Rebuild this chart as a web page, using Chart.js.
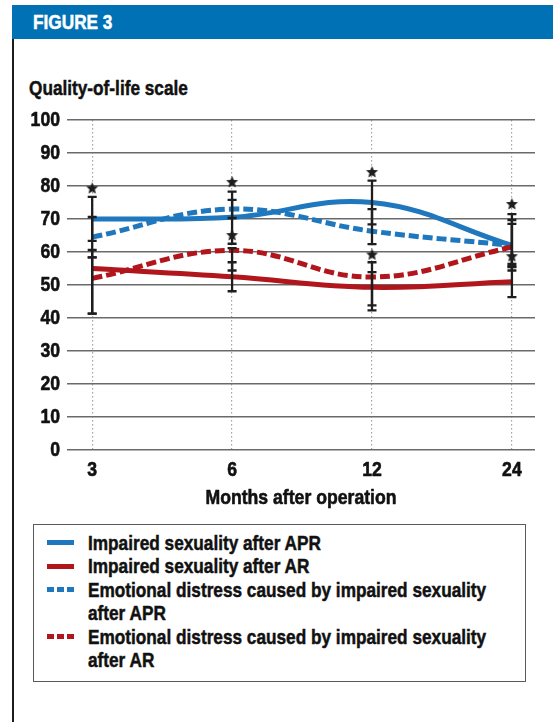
<!DOCTYPE html>
<html>
<head>
<meta charset="utf-8">
<script src="https://cdn.jsdelivr.net/npm/chart.js@4/dist/chart.umd.min.js"></script>
<style>
  html, body { margin: 0; padding: 0; background: #fff; }
  body {
    width: 553px; height: 722px; position: relative; overflow: hidden;
    font-family: "Liberation Sans", Arial, sans-serif;
    font-weight: bold; color: #111;
  }
  /* condensed, heavy lettering */
  .cond { display: inline-block; transform: scaleX(0.82); transform-origin: 0 0; white-space: nowrap; -webkit-text-stroke: 0.5px currentColor; }
  #band { position: absolute; left: 12px; top: 5px; width: 541px; height: 34px; background: #0071b5; color: #fff; font-size: 21px; line-height: 34px; }
  #band .cond { position: absolute; left: 21px; top: 0; }
  #rule { position: absolute; left: 12px; top: 39px; width: 2px; height: 683px; background: #1c1c1c; }
  #ytitle { position: absolute; left: 29px; top: 76px; font-size: 21px; line-height: 24px; }
  #wrap { position: absolute; left: 0; top: 0; width: 553px; height: 515px; }
  #legend {
    position: absolute; left: 33px; top: 524px; width: 493px; height: 158px;
    box-sizing: border-box; border: 1.5px solid #5a5a5a; padding-top: 6px;
    font-size: 21px; line-height: 23.4px;
  }
  .item { position: relative; padding-left: 53.5px; }
  .item .txt { display: block; width: 515px; transform: scaleX(0.82); transform-origin: 0 0; -webkit-text-stroke: 0.5px currentColor; }
  .swatch { position: absolute; left: 12.5px; top: 9.2px; width: 27px; height: 5px; }
</style>
</head>
<body>
<div id="band"><span class="cond">FIGURE 3</span></div>
<div id="rule"></div>
<div id="ytitle"><span class="cond">Quality-of-life scale</span></div>
<div id="wrap"><canvas id="chart" width="553" height="515"></canvas></div>
<div id="legend"></div>

<script>
// Follow-up time points (months after operation)
const months = ['3', '6', '12', '24'];

// Mean scores per time point
const aprImpaired = [70, 70.5, 75, 62];
const arImpaired  = [55, 52.5, 49.3, 51];
const aprDistress = [64.5, 73, 66.3, 62];
const arDistress  = [52, 60.5, 52.4, 61.5];

// Error bar ranges per time point
const aprImpairedLow  = [63.4, 62.5, 68.4, 54.4];
const aprImpairedHigh = [76.7, 78.3, 81.6, 71.5];
const aprDistressLow  = [58.4, 70.3, 62.4, 55.4];
const aprDistressHigh = [70.6, 75.8, 73, 68.5];
const arImpairedLow   = [41.3, 48.1, 43.8, 46.3];
const arImpairedHigh  = [60.6, 56.9, 53.9, 55.7];
const arDistressLow   = [41.3, 54.4, 42.3, 56.4];
const arDistressHigh  = [58.4, 61.2, 56.9, 69.7];

// Significance markers: time point index and height
const starMonth = [0, 1, 1, 2, 2, 3, 3];
const starValue = [79.5, 81.4, 65.3, 84.4, 59.4, 74.7, 58.9];

const BLUE = '#1f77bd';
const RED = '#b0161c';
const INK = '#1e1e1e';
const FONT = '"Liberation Sans", Arial, sans-serif';
const CONDENSE = 0.84;

const errorRanges = [
  [aprImpairedLow, aprImpairedHigh],
  [aprDistressLow, aprDistressHigh],
  [arImpairedLow, arImpairedHigh],
  [arDistressLow, arDistressHigh]
];

function starImage(r) {
  const s = Math.ceil(r * 2 + 2);
  const c = document.createElement('canvas');
  c.width = s; c.height = s;
  const g = c.getContext('2d');
  g.fillStyle = INK;
  g.beginPath();
  for (let k = 0; k < 10; k++) {
    const rad = k % 2 ? r * 0.45 : r;
    const a = -Math.PI / 2 + k * Math.PI / 5;
    g.lineTo(s / 2 + rad * Math.cos(a), s / 2 + 0.8 + rad * Math.sin(a));
  }
  g.closePath();
  g.fill();
  return c;
}

const toPoints = arr => arr.map((v, i) => ({ x: i, y: v }));

// Vertical error bars with caps, drawn just before the marker layer
const errorBars = {
  id: 'errorBars',
  beforeDatasetDraw(chart, args) {
    if (chart.data.datasets[args.index].type !== 'scatter') return;
    const { ctx, scales: { x, y } } = chart;
    ctx.save();
    ctx.strokeStyle = INK;
    ctx.lineWidth = 2.3;
    ctx.lineCap = 'butt';
    errorRanges.forEach(([lo, hi]) => {
      lo.forEach((v, i) => {
        const px = x.getPixelForValue(i);
        const y1 = y.getPixelForValue(v);
        const y2 = y.getPixelForValue(hi[i]);
        ctx.beginPath();
        ctx.moveTo(px, y1); ctx.lineTo(px, y2);
        ctx.moveTo(px - 4.5, y1); ctx.lineTo(px + 4.5, y1);
        ctx.moveTo(px - 4.5, y2); ctx.lineTo(px + 4.5, y2);
        ctx.stroke();
      });
    });
    ctx.restore();
  }
};

// Canvas text is set in a condensed, heavy cut around its anchor point
const canvas = document.getElementById('chart');
const ctx2d = canvas.getContext('2d');
const plainFillText = ctx2d.fillText.bind(ctx2d);
ctx2d.fillText = function (text, x, y, maxWidth) {
  this.save();
  this.translate(x, y);
  this.scale(CONDENSE, 1);
  const w = maxWidth === undefined ? undefined : maxWidth / CONDENSE;
  if (w === undefined) plainFillText(text, 0, 0); else plainFillText(text, 0, 0, w);
  this.strokeStyle = this.fillStyle;
  this.lineWidth = 0.6;
  this.lineJoin = 'round';
  if (w === undefined) this.strokeText(text, 0, 0); else this.strokeText(text, 0, 0, w);
  this.restore();
};

const lineBase = { type: 'line', borderWidth: 5, pointRadius: 0, tension: 0.4, fill: false, borderCapStyle: 'butt' };
const tickFont = { family: FONT, size: 21, weight: 'bold' };

const chart = new Chart(ctx2d, {
  type: 'line',
  data: {
    datasets: [
      { ...lineBase, label: 'Impaired sexuality after APR', data: toPoints(aprImpaired), borderColor: BLUE, order: 4 },
      { ...lineBase, label: 'Impaired sexuality after AR', data: toPoints(arImpaired), borderColor: RED, order: 2 },
      { ...lineBase, label: 'Emotional distress caused by impaired sexuality after APR', data: toPoints(aprDistress), borderColor: BLUE, borderDash: [10, 4], order: 3 },
      { ...lineBase, label: 'Emotional distress caused by impaired sexuality after AR', data: toPoints(arDistress), borderColor: RED, borderDash: [10, 4], order: 1 },
      {
        type: 'scatter', label: 'p < 0.05',
        data: starMonth.map((m, i) => ({ x: m, y: starValue[i] })),
        pointStyle: starImage(6.3), pointRadius: 7, showLine: false, order: 0
      }
    ]
  },
  options: {
    responsive: false,
    devicePixelRatio: 1,
    animation: false,
    events: [],
    layout: { padding: { top: 120, left: 0, right: 18, bottom: 4 } },
    plugins: { legend: { display: false }, tooltip: { enabled: false } },
    scales: {
      x: {
        type: 'linear', min: -0.18, max: 3.165,
        afterBuildTicks: s => { s.ticks = months.map((m, i) => ({ value: i })); },
        afterFit: s => { s.height = 61; },
        ticks: { callback: v => months[v] ?? '', color: '#111', padding: 8, font: tickFont },
        grid: { color: '#a3a3a3', lineWidth: 1.2, drawTicks: false },
        border: { display: false, dash: [1.5, 2.5] },
        title: { display: true, text: 'Months after operation', color: '#111', padding: { top: 0, bottom: 0 }, font: tickFont }
      },
      y: {
        min: 0, max: 100,
        afterFit: s => { s.width = 67; },
        ticks: { stepSize: 10, color: '#111', padding: 7, font: tickFont },
        grid: { color: '#6a6a6a', lineWidth: 1.6, drawTicks: false },
        border: { display: false }
      }
    }
  },
  plugins: [errorBars]
});

// Legend built from the line datasets
const legend = document.getElementById('legend');
chart.data.datasets.filter(d => d.type === 'line').forEach(d => {
  const item = document.createElement('div');
  item.className = 'item';
  const sw = document.createElement('span');
  sw.className = 'swatch';
  if (d.borderDash) {
    sw.style.background = `repeating-linear-gradient(to right, ${d.borderColor} 0 7px, transparent 7px 10px)`;
  } else {
    sw.style.background = d.borderColor;
  }
  const txt = document.createElement('span');
  txt.className = 'txt';
  txt.textContent = d.label;
  item.appendChild(sw);
  item.appendChild(txt);
  legend.appendChild(item);
});
</script>
</body>
</html>
